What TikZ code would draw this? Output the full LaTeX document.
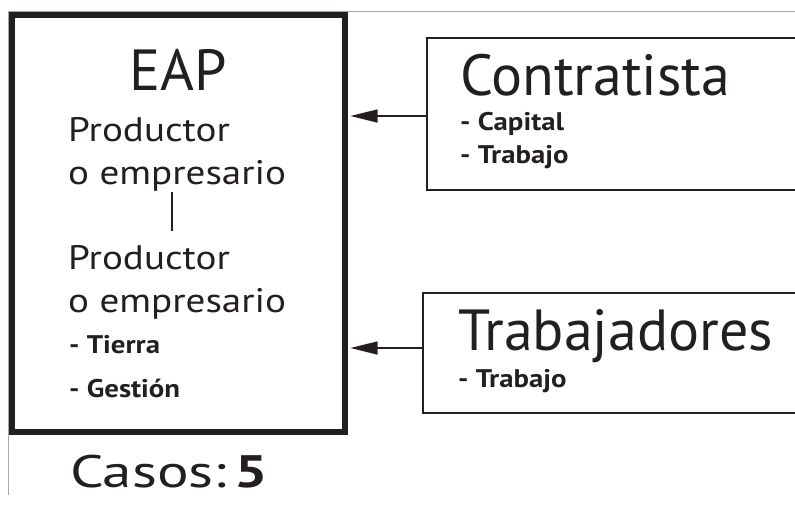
\documentclass[tikz,border=0pt]{standalone}
\usepackage{fontspec}
\setmainfont{PT Sans}
\newfontfamily\medio[FakeStretch=1.15]{PT Sans}
\newfontfamily\ancho[FakeStretch=1.13]{PT Sans}
\newfontfamily\casos[FakeStretch=1.3]{PT Sans}
\usetikzlibrary{positioning,arrows.meta}
\definecolor{tinta}{HTML}{231F20}
\tikzset{
  caja/.style={draw=tinta, inner sep=0pt},
  titulo/.style={anchor=base west, inner sep=0pt, text=tinta, font=\fontsize{58}{60}\selectfont},
  linea/.style={anchor=base west, inner sep=0pt, text=tinta, font=\medio\fontsize{34}{36}\selectfont},
  item/.style={anchor=base west, inner sep=0pt, text=tinta, font=\ancho\bfseries\fontsize{25.5}{28}\selectfont},
  flecha/.style={draw=tinta, line width=1.3pt, -{Triangle[length=27pt,width=13pt]}},
}

\begin{document}
\begin{tikzpicture}[x=1pt, y=-1pt]
            \useasboundingbox (0,0) rectangle (795,504);
            \clip (0,0) rectangle (795,504);
            % marco fino
            \draw[gray!70, line width=0.8pt] (795,11) -- (8,11) -- (8,495);
            % cajas
            \node[caja, line width=6pt, minimum width=333pt, minimum height=417pt] (EAP) at (178,223) {};
            \node[caja, line width=1.3pt, minimum width=403pt, minimum height=152pt] (Contr) at (628.5,114) {};
            \node[caja, line width=1.3pt, minimum width=407pt, minimum height=120pt] (Trab) at (626.5,353) {};
            % textos EAP
            \node[titulo] (T1) at (129,90) {EAP};
            \node[linea] (P1) at (68,141) {Productor};
            \node[linea] (E1) at (68,184) {o empresario};
            \node[linea] (P2) at (68,269) {Productor};
            \node[linea] (E2) at (68,312) {o empresario};
            \node[item] (Tierra) at (69,353) {- Tierra};
            \node[item] (Gestion) at (69,397) {- Gestión};
            \coordinate (S1) at (172,192);
            \coordinate (S2) at (172,231);
            \draw[tinta, line width=1.3pt] (S1) -- (S2);
            % textos derecha
            \node[titulo] (T2) at (460,95) {Contratista};
            \node[item] (Capital) at (460,130) {- Capital};
            \node[item] (Trabajo1) at (460,163) {- Trabajo};
            \node[titulo] (T3) at (458,350) {Trabajadores};
            \node[item] (Trabajo2) at (458,387) {- Trabajo};
            \node[anchor=base west, inner sep=0pt, text=tinta, font=\casos\fontsize{45.5}{48}\selectfont] (Casos) at (70,487) {Casos:\,\textbf{5}};
            % flechas
            \draw[flecha, shorten >=3pt] ([yshift=-2pt]Contr.west) -- ([yshift=-2pt]Contr.west -| EAP.east);
            \draw[flecha, shorten >=3pt] ([yshift=5pt]Trab.west) -- ([yshift=5pt]Trab.west -| EAP.east);
          \end{tikzpicture}
\end{document}
